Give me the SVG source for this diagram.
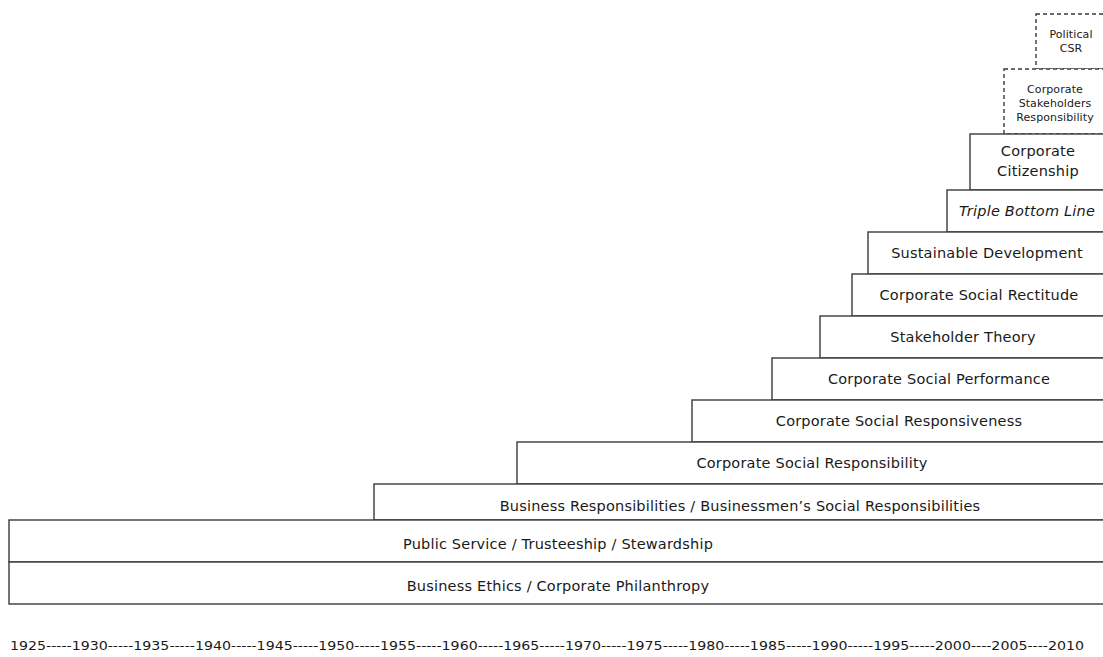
<svg xmlns="http://www.w3.org/2000/svg" width="1103" height="657" viewBox="0 0 1103 657">
<style>
.b{fill:#fff;stroke:#3a3a3a;stroke-width:1.4}
.d{fill:#fff;stroke:#3a3a3a;stroke-width:1.4;stroke-dasharray:4 3}
text{font-family:"DejaVu Sans",Verdana,sans-serif;font-size:14.5px;letter-spacing:0.2px;fill:#1a1a1a;text-anchor:middle}
.s{font-size:11px;letter-spacing:0.1px}
.y{font-size:12px;letter-spacing:0;text-anchor:start}
</style>
<rect width="1103" height="657" fill="#fff"/>
<g id="n13"><rect class="d" x="1036" y="14" width="72" height="55"/><text class="s" x="1071" y="38">Political</text><text class="s" x="1071" y="52">CSR</text></g>
<g id="n12"><rect class="d" x="1004" y="69" width="104" height="65"/><text class="s" x="1055" y="93">Corporate</text><text class="s" x="1055" y="107">Stakeholders</text><text class="s" x="1055" y="121">Responsibility</text></g>
<g id="n11"><rect class="b" x="970" y="134" width="138" height="56"/><text x="1038" y="156">Corporate</text><text x="1038" y="176">Citizenship</text></g>
<g id="n10"><rect class="b" x="947" y="190" width="161" height="42"/><text x="1027" y="216" font-style="italic">Triple Bottom Line</text></g>
<g id="n9"><rect class="b" x="868" y="232" width="240" height="42"/><text x="987" y="258">Sustainable Development</text></g>
<g id="n8"><rect class="b" x="852" y="274" width="256" height="42"/><text x="979" y="300">Corporate Social Rectitude</text></g>
<g id="n7"><rect class="b" x="820" y="316" width="288" height="42"/><text x="963" y="342">Stakeholder Theory</text></g>
<g id="n6"><rect class="b" x="772" y="358" width="336" height="42"/><text x="939" y="384">Corporate Social Performance</text></g>
<g id="n5"><rect class="b" x="692" y="400" width="416" height="42"/><text x="899" y="426">Corporate Social Responsiveness</text></g>
<g id="n4"><rect class="b" x="517" y="442" width="591" height="42"/><text x="812" y="468">Corporate Social Responsibility</text></g>
<g id="n3"><rect class="b" x="374" y="484" width="734" height="36"/><text x="740" y="511">Business Responsibilities / Businessmen’s Social Responsibilities</text></g>
<g id="n2"><rect class="b" x="9" y="520" width="1099" height="42"/><text x="558" y="549">Public Service / Trusteeship / Stewardship</text></g>
<g id="n1"><rect class="b" x="9" y="562" width="1099" height="42"/><text x="558" y="591">Business Ethics / Corporate Philanthropy</text></g>
<g id="connectors"></g>
<text class="y" x="10" y="650" textLength="1074" lengthAdjust="spacingAndGlyphs">1925-----1930-----1935-----1940-----1945-----1950-----1955-----1960-----1965-----1970-----1975-----1980-----1985-----1990-----1995-----2000----2005----2010</text>
</svg>
